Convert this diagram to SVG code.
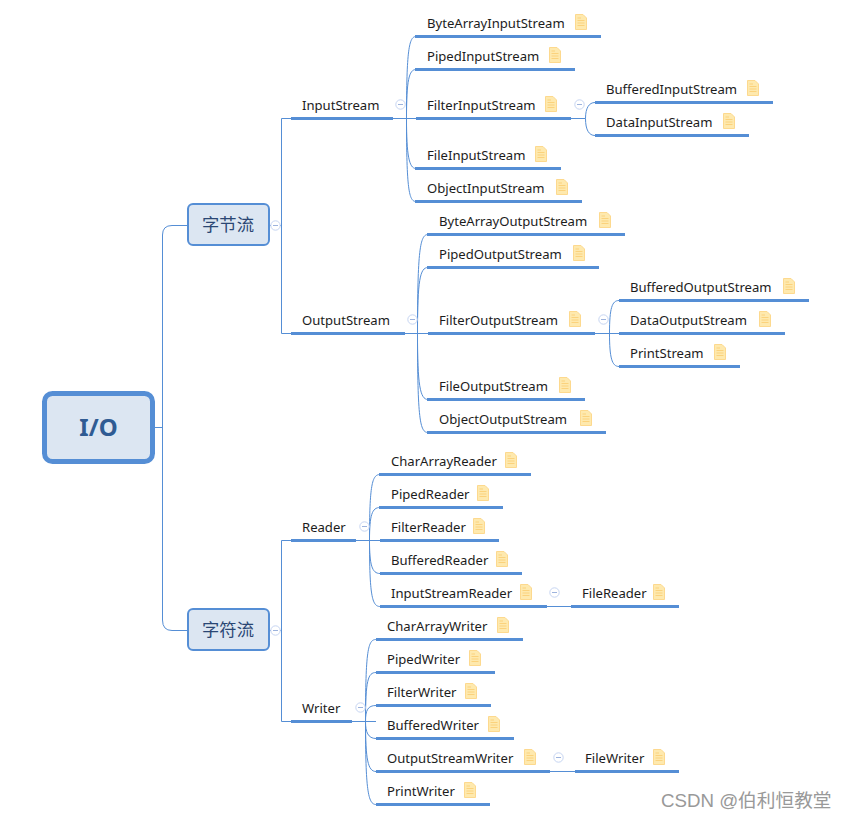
<svg xmlns="http://www.w3.org/2000/svg" width="848" height="819" viewBox="0 0 848 819">
<style>
text{font-family:"Noto Sans","Noto Sans CJK SC",sans-serif}
.t{font-size:13.1px;fill:#1c1c1c}
.u{stroke:#558ed5;stroke-width:3;fill:none}
.c{stroke:#558ed5;stroke-width:1;fill:none}
.m{font-size:17.3px;fill:#2a4674;text-anchor:middle;font-family:"Noto Sans CJK SC",sans-serif}
.box{fill:#dce6f2;stroke:#558ed5;stroke-width:2}
</style>
<defs>
<g id="note"><path d="M.5 .5H8L11.5 4V15.5H.5Z" fill="#fee9ae" stroke="#fdd98e"/><path d="M2.500 6.500H9.500M2.500 9H9.500M2.500 11.500H9.500M2.500 4H6" stroke="#fbd27c" fill="none"/></g>
<g id="col"><circle r="4.700" fill="#fff" stroke="#c6d5f2"/><path d="M-2.500 0H2.500" stroke="#9db3dd"/></g>
</defs>
<g id="connectors">
<path class="c" d="M155 427.500H162.500M188 225.500H172Q162.500 225.500 162.500 235V620Q162.500 630.500 172 630.500H188"/>
<path class="c" d="M269 225.500H281.500M291 118.500H281.500V333.500H291"/>
<path class="c" d="M269 630.500H281.500M291 540.500H281.500V721.500H291"/>
<path class="c" d="M393 118.500H416M416 36.500C409 36.500 406.500 50 406.500 118.500M416 69.500C409 69.500 406.500 80 406.500 118.500M416 168.500C409 168.500 406.500 155 406.500 118.500M416 201.500C409 201.500 406.500 190 406.500 118.500"/>
<path class="c" d="M571 118.500H585.500M595 102.500C589 102.500 585.500 108 585.500 118.500M595 135.500C589 135.500 585.500 130 585.500 118.500"/>
<path class="c" d="M405 333.500H428M428 234.500C420 234.500 417.500 250 417.500 333.500M428 267.500C420 267.500 417.500 280 417.500 333.500M428 399.500C420 399.500 417.500 385 417.500 333.500M428 432.500C420 432.500 417.500 420 417.500 333.500"/>
<path class="c" d="M595 333.500H619M619 300.500C612 300.500 609.500 308 609.500 333.500M619 366.500C612 366.500 609.500 358 609.500 333.500"/>
<path class="c" d="M356 540.500H380M380 474.500C372 474.500 369.500 485 369.500 540.500M380 507.500C372 507.500 369.500 515 369.500 540.500M380 573.500C372 573.500 369.500 565 369.500 540.500M380 606.500C372 606.500 369.500 595 369.500 540.500"/>
<path class="c" d="M352 721.500H376M376 639.500C368 639.500 365.500 650 365.500 721.500M376 672.500C368 672.500 365.500 680 365.500 721.500M376 705.500C368 705.500 365.500 710 365.500 721.500M376 738.500C368 738.500 365.500 732 365.500 721.500M376 771.500C368 771.500 365.500 760 365.500 721.500M376 804.500C368 804.500 365.500 790 365.500 721.500"/>
<path class="c" d="M547 606.500H571M550 771.500H575"/>
<use href="#col" x="275.500" y="225.500"/><use href="#col" x="275.500" y="630.500"/>
<use href="#col" x="400.500" y="104.500"/><use href="#col" x="579.500" y="104.500"/>
<use href="#col" x="412.500" y="319.500"/><use href="#col" x="603.500" y="319.500"/>
<use href="#col" x="364.500" y="526.500"/><use href="#col" x="360.500" y="707.500"/>
<use href="#col" x="554.500" y="592.500"/><use href="#col" x="558.500" y="757.500"/>
</g>
<g id="root"><rect x="44.500" y="393.500" width="108" height="68" rx="8" fill="#dce6f2" stroke="#558ed5" stroke-width="5"/><text x="98.500" y="436" text-anchor="middle" style="font-size:24px;font-weight:700;fill:#2f5b93">I/O</text></g>
<g id="n-byte"><rect class="box" x="188" y="204" width="81" height="41" rx="5"/><text class="m" x="228" y="231">字节流</text></g>
<g id="n-char"><rect class="box" x="188" y="609" width="81" height="41" rx="5"/><text class="m" x="228" y="636">字符流</text></g>
<g id="n1"><path class="u" d="M291 118.500H393"/><text class="t" x="302" y="110">InputStream</text></g>
<g id="n2"><path class="u" d="M415 36.500H601"/><text class="t" x="427" y="28">ByteArrayInputStream</text><use href="#note" x="575" y="14"/></g>
<g id="n3"><path class="u" d="M415 69.500H575"/><text class="t" x="427" y="61">PipedInputStream</text><use href="#note" x="549" y="47"/></g>
<g id="n4"><path class="u" d="M416 118.500H571"/><text class="t" x="427" y="110">FilterInputStream</text><use href="#note" x="545" y="96"/></g>
<g id="n5"><path class="u" d="M595 102.500H773"/><text class="t" x="606" y="94">BufferedInputStream</text><use href="#note" x="747" y="80"/></g>
<g id="n6"><path class="u" d="M595 135.500H749"/><text class="t" x="606" y="127">DataInputStream</text><use href="#note" x="723" y="113"/></g>
<g id="n7"><path class="u" d="M415 168.500H561"/><text class="t" x="427" y="160">FileInputStream</text><use href="#note" x="535" y="146"/></g>
<g id="n8"><path class="u" d="M415 201.500H582"/><text class="t" x="427" y="193">ObjectInputStream</text><use href="#note" x="556" y="179"/></g>
<g id="n9"><path class="u" d="M291 333.500H405"/><text class="t" x="302" y="325">OutputStream</text></g>
<g id="n10"><path class="u" d="M427 234.500H625"/><text class="t" x="439" y="226">ByteArrayOutputStream</text><use href="#note" x="599" y="212"/></g>
<g id="n11"><path class="u" d="M427 267.500H599"/><text class="t" x="439" y="259">PipedOutputStream</text><use href="#note" x="573" y="245"/></g>
<g id="n12"><path class="u" d="M428 333.500H595"/><text class="t" x="439" y="325">FilterOutputStream</text><use href="#note" x="569" y="311"/></g>
<g id="n13"><path class="u" d="M619 300.500H809"/><text class="t" x="630" y="292">BufferedOutputStream</text><use href="#note" x="783" y="278"/></g>
<g id="n14"><path class="u" d="M619 333.500H785"/><text class="t" x="630" y="325">DataOutputStream</text><use href="#note" x="759" y="311"/></g>
<g id="n15"><path class="u" d="M619 366.500H740"/><text class="t" x="630" y="358">PrintStream</text><use href="#note" x="714" y="344"/></g>
<g id="n16"><path class="u" d="M427 399.500H585"/><text class="t" x="439" y="391">FileOutputStream</text><use href="#note" x="559" y="377"/></g>
<g id="n17"><path class="u" d="M427 432.500H606"/><text class="t" x="439" y="424">ObjectOutputStream</text><use href="#note" x="580" y="410"/></g>
<g id="n18"><path class="u" d="M291 540.500H356"/><text class="t" x="302" y="532">Reader</text></g>
<g id="n19"><path class="u" d="M379 474.500H531"/><text class="t" x="391" y="466">CharArrayReader</text><use href="#note" x="505" y="452"/></g>
<g id="n20"><path class="u" d="M379 507.500H503"/><text class="t" x="391" y="499">PipedReader</text><use href="#note" x="477" y="485"/></g>
<g id="n21"><path class="u" d="M380 540.500H499"/><text class="t" x="391" y="532">FilterReader</text><use href="#note" x="473" y="518"/></g>
<g id="n22"><path class="u" d="M380 573.500H522"/><text class="t" x="391" y="565">BufferedReader</text><use href="#note" x="496" y="551"/></g>
<g id="n23"><path class="u" d="M380 606.500H547"/><text class="t" x="391" y="598">InputStreamReader</text><use href="#note" x="520" y="584"/></g>
<g id="n24"><path class="u" d="M571 606.500H679"/><text class="t" x="582" y="598">FileReader</text><use href="#note" x="653" y="584"/></g>
<g id="n25"><path class="u" d="M291 721.500H352"/><text class="t" x="302" y="713">Writer</text></g>
<g id="n26"><path class="u" d="M376 639.500H523"/><text class="t" x="387" y="631">CharArrayWriter</text><use href="#note" x="497" y="617"/></g>
<g id="n27"><path class="u" d="M376 672.500H495"/><text class="t" x="387" y="664">PipedWriter</text><use href="#note" x="469" y="650"/></g>
<g id="n28"><path class="u" d="M376 705.500H491"/><text class="t" x="387" y="697">FilterWriter</text><use href="#note" x="465" y="683"/></g>
<g id="n29"><path class="u" d="M376 738.500H514"/><text class="t" x="387" y="730">BufferedWriter</text><use href="#note" x="488" y="716"/></g>
<g id="n30"><path class="u" d="M376 771.500H550"/><text class="t" x="387" y="763">OutputStreamWriter</text><use href="#note" x="524" y="749"/></g>
<g id="n31"><path class="u" d="M575 771.500H679"/><text class="t" x="585" y="763">FileWriter</text><use href="#note" x="653" y="749"/></g>
<g id="n32"><path class="u" d="M376 804.500H490"/><text class="t" x="387" y="796">PrintWriter</text><use href="#note" x="464" y="782"/></g>
<text x="661" y="807" style="font-size:18.7px;fill:#999;font-family:'Liberation Sans','Noto Sans CJK SC',sans-serif">CSDN @伯利恒教堂</text>
</svg>
